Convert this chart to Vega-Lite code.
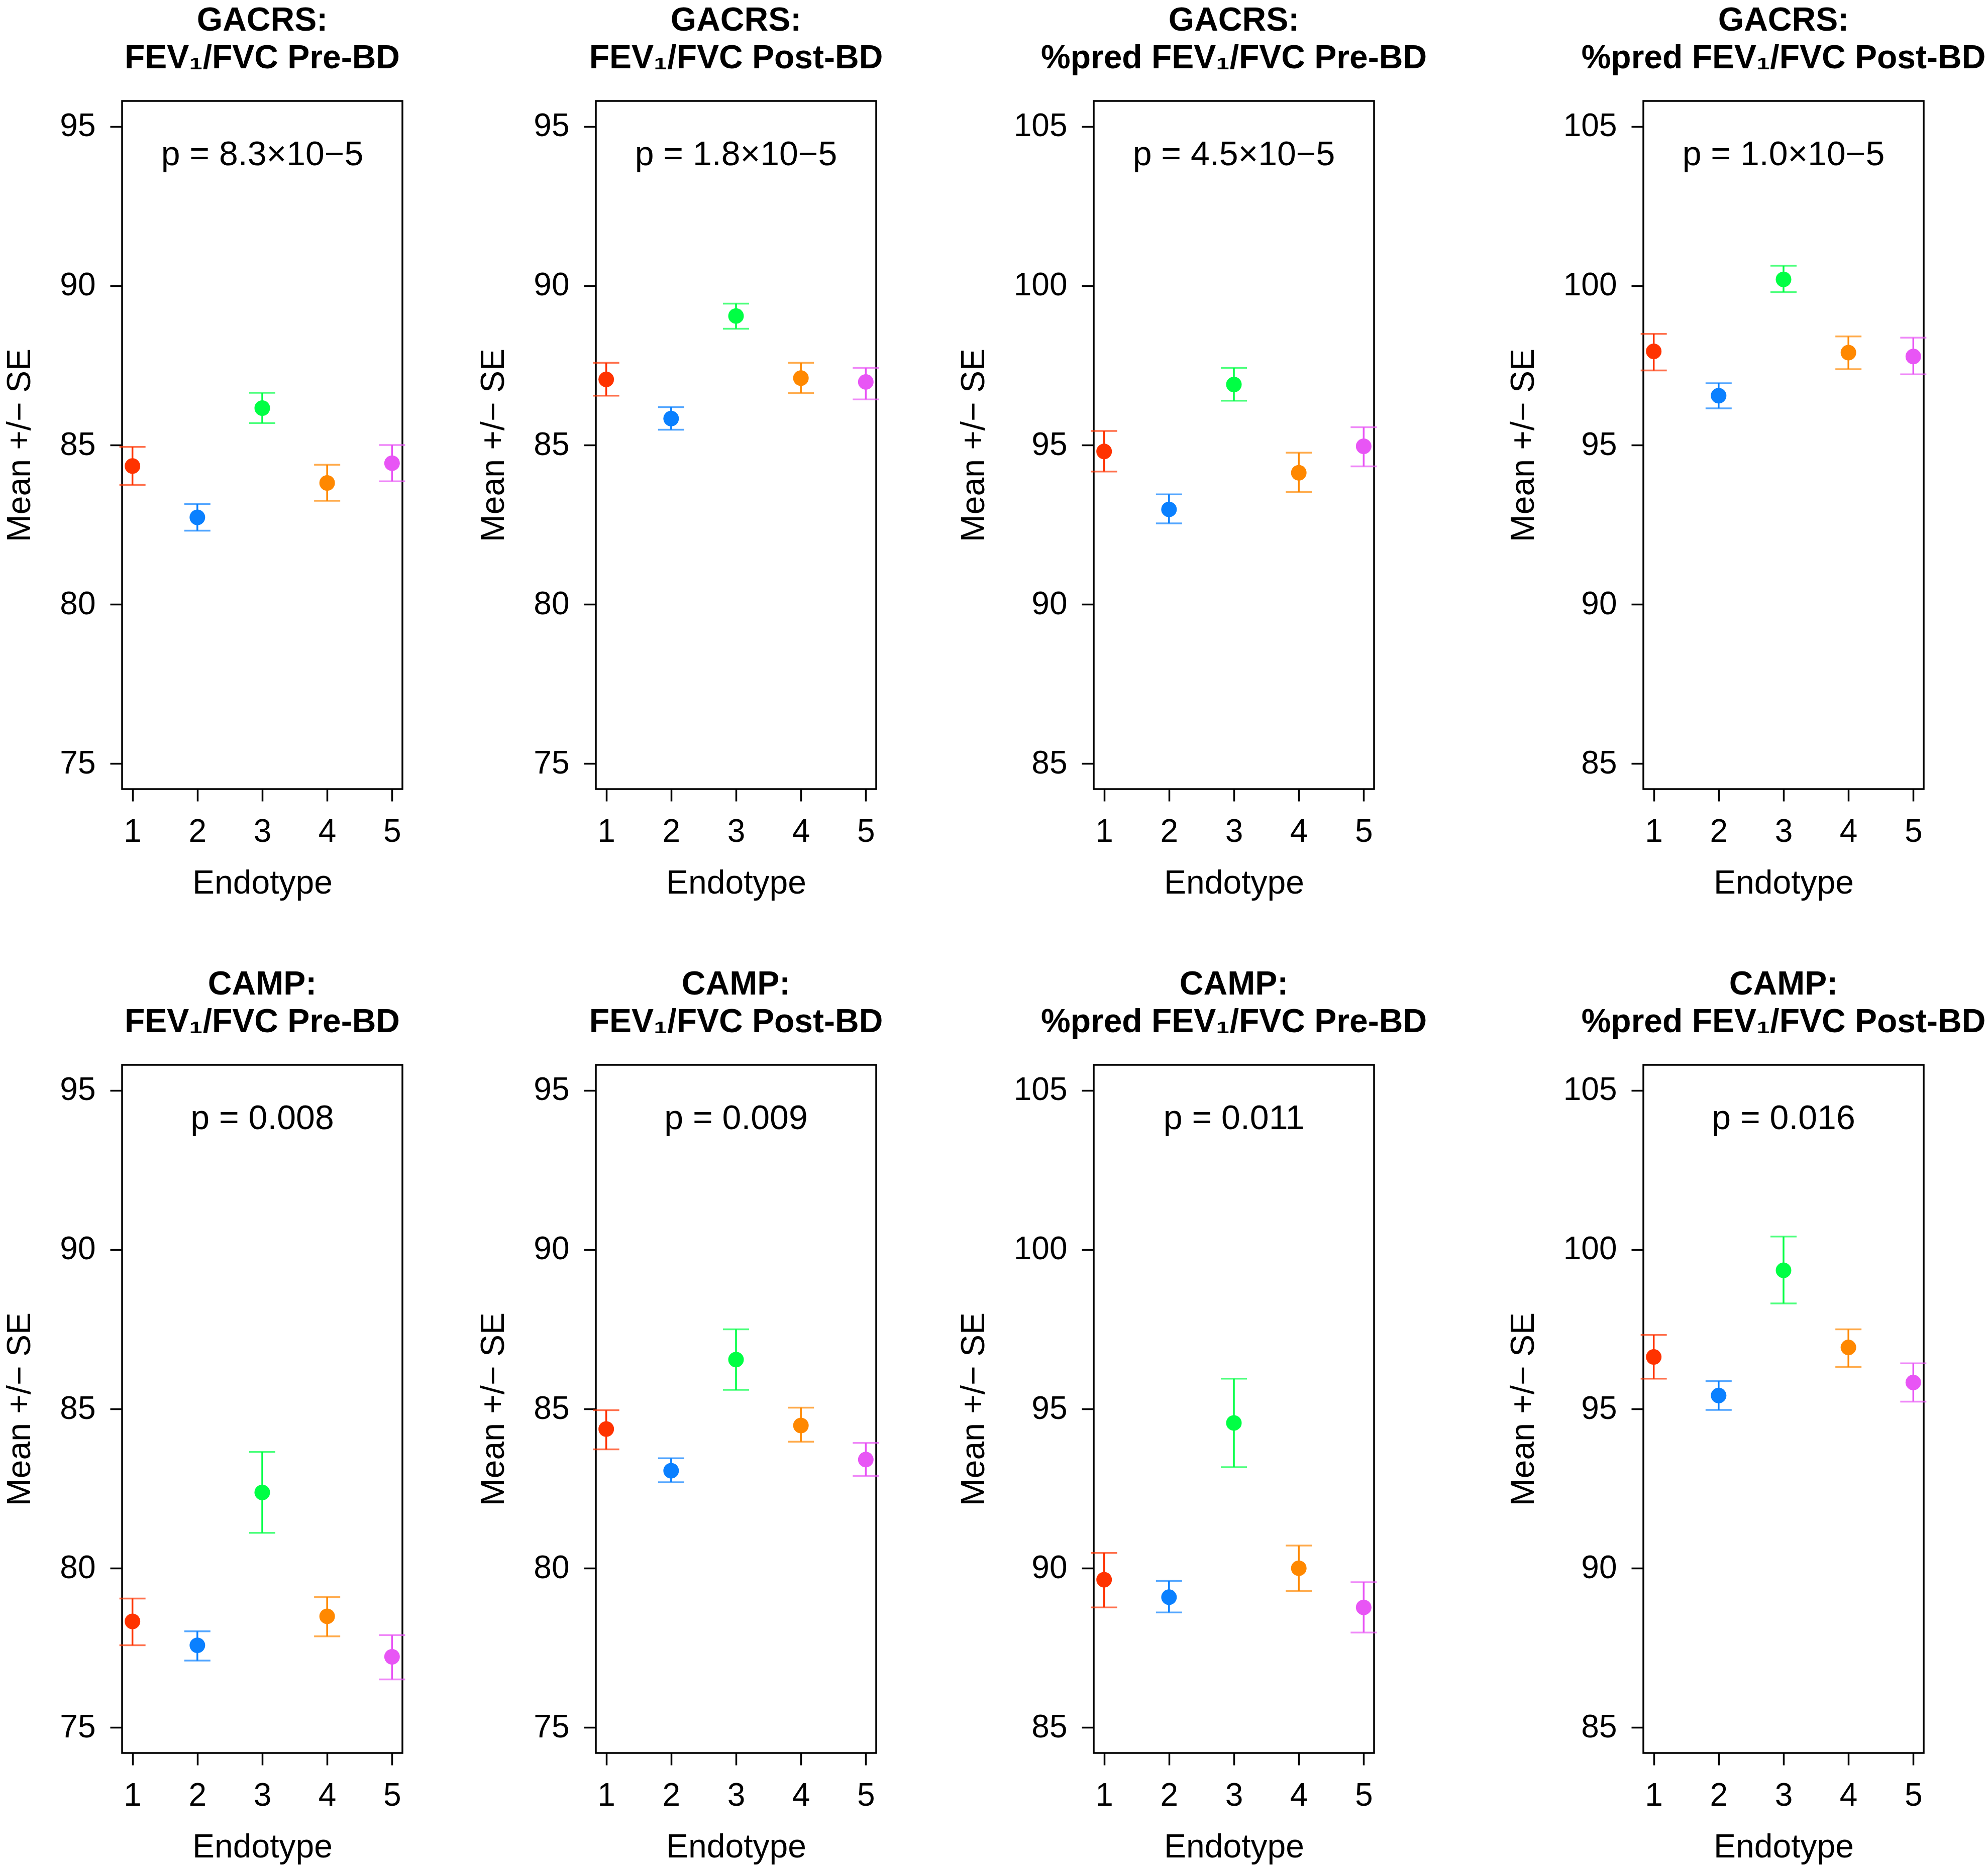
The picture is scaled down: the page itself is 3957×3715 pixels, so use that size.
{
  "$schema": "https://vega.github.io/schema/vega-lite/v6.json",
  "background": "white",
  "padding": {"left": 5, "top": 6, "right": 0, "bottom": 0},
  "datasets": {
    "pts": [
      {"panel": "g1", "endotype": 1, "mean": 84.34, "lo": 83.75, "hi": 84.94},
      {"panel": "g1", "endotype": 2, "mean": 82.73, "lo": 82.31, "hi": 83.15},
      {"panel": "g1", "endotype": 3, "mean": 86.16, "lo": 85.69, "hi": 86.64},
      {"panel": "g1", "endotype": 4, "mean": 83.81, "lo": 83.25, "hi": 84.38},
      {"panel": "g1", "endotype": 5, "mean": 84.43, "lo": 83.86, "hi": 85.0},
      {"panel": "g2", "endotype": 1, "mean": 87.06, "lo": 86.55, "hi": 87.58},
      {"panel": "g2", "endotype": 2, "mean": 85.83, "lo": 85.48, "hi": 86.19},
      {"panel": "g2", "endotype": 3, "mean": 89.05, "lo": 88.65, "hi": 89.44},
      {"panel": "g2", "endotype": 4, "mean": 87.1, "lo": 86.63, "hi": 87.58},
      {"panel": "g2", "endotype": 5, "mean": 86.98, "lo": 86.43, "hi": 87.42},
      {"panel": "g3", "endotype": 1, "mean": 94.8, "lo": 94.17, "hi": 95.44},
      {"panel": "g3", "endotype": 2, "mean": 92.98, "lo": 92.54, "hi": 93.45},
      {"panel": "g3", "endotype": 3, "mean": 96.9, "lo": 96.39, "hi": 97.42},
      {"panel": "g3", "endotype": 4, "mean": 94.13, "lo": 93.53, "hi": 94.76},
      {"panel": "g3", "endotype": 5, "mean": 94.96, "lo": 94.33, "hi": 95.56},
      {"panel": "g4", "endotype": 1, "mean": 97.94, "lo": 97.34, "hi": 98.49},
      {"panel": "g4", "endotype": 2, "mean": 96.55, "lo": 96.15, "hi": 96.94},
      {"panel": "g4", "endotype": 3, "mean": 100.2, "lo": 99.8, "hi": 100.63},
      {"panel": "g4", "endotype": 4, "mean": 97.9, "lo": 97.38, "hi": 98.41},
      {"panel": "g4", "endotype": 5, "mean": 97.78, "lo": 97.22, "hi": 98.37},
      {"panel": "c1", "endotype": 1, "mean": 78.33, "lo": 77.58, "hi": 79.05},
      {"panel": "c1", "endotype": 2, "mean": 77.58, "lo": 77.1, "hi": 78.02},
      {"panel": "c1", "endotype": 3, "mean": 82.38, "lo": 81.11, "hi": 83.65},
      {"panel": "c1", "endotype": 4, "mean": 78.49, "lo": 77.86, "hi": 79.09},
      {"panel": "c1", "endotype": 5, "mean": 77.22, "lo": 76.51, "hi": 77.9},
      {"panel": "c2", "endotype": 1, "mean": 84.37, "lo": 83.73, "hi": 84.96},
      {"panel": "c2", "endotype": 2, "mean": 83.06, "lo": 82.7, "hi": 83.45},
      {"panel": "c2", "endotype": 3, "mean": 86.55, "lo": 85.6, "hi": 87.5},
      {"panel": "c2", "endotype": 4, "mean": 84.48, "lo": 83.97, "hi": 85.04},
      {"panel": "c2", "endotype": 5, "mean": 83.41, "lo": 82.9, "hi": 83.93},
      {"panel": "c3", "endotype": 1, "mean": 89.64, "lo": 88.77, "hi": 90.48},
      {"panel": "c3", "endotype": 2, "mean": 89.09, "lo": 88.61, "hi": 89.6},
      {"panel": "c3", "endotype": 3, "mean": 94.56, "lo": 93.17, "hi": 95.95},
      {"panel": "c3", "endotype": 4, "mean": 90.0, "lo": 89.29, "hi": 90.71},
      {"panel": "c3", "endotype": 5, "mean": 88.77, "lo": 87.98, "hi": 89.56},
      {"panel": "c4", "endotype": 1, "mean": 96.63, "lo": 95.95, "hi": 97.32},
      {"panel": "c4", "endotype": 2, "mean": 95.42, "lo": 94.97, "hi": 95.87},
      {"panel": "c4", "endotype": 3, "mean": 99.35, "lo": 98.31, "hi": 100.41},
      {"panel": "c4", "endotype": 4, "mean": 96.93, "lo": 96.32, "hi": 97.5},
      {"panel": "c4", "endotype": 5, "mean": 95.83, "lo": 95.23, "hi": 96.43}
    ],
    "pv": [
      {"panel": "g1", "label": "p = 8.3×10−5"},
      {"panel": "g2", "label": "p = 1.8×10−5"},
      {"panel": "g3", "label": "p = 4.5×10−5"},
      {"panel": "g4", "label": "p = 1.0×10−5"},
      {"panel": "c1", "label": "p = 0.008"},
      {"panel": "c2", "label": "p = 0.009"},
      {"panel": "c3", "label": "p = 0.011"},
      {"panel": "c4", "label": "p = 0.016"}
    ]
  },
  "spacing": 132,
  "vconcat": [
    {
      "spacing": 139,
      "hconcat": [
        {
          "title": {"text": ["GACRS:", "FEV₁/FVC Pre-BD"]},
          "width": 558, "height": 1370,
          "layer": [
            {"data": {"name": "pts"}, "transform": [{"filter": "datum.panel == 'g1'"}], "mark": {"type": "rule", "strokeWidth": 3.5},
             "encoding": {"x": {"field": "endotype", "type": "quantitative", "scale": {"domain": [0.84, 5.16], "nice": false, "zero": false}, "axis": {"values": [1, 2, 3, 4, 5], "title": "Endotype", "format": "d"}},
                          "y": {"field": "lo", "type": "quantitative", "scale": {"domain": [74.2, 95.8], "nice": false, "zero": false}, "axis": {"values": [75, 80, 85, 90, 95], "title": "Mean +/− SE", "format": "d"}}, "y2": {"field": "hi"},
                          "color": {"field": "endotype", "type": "nominal", "scale": {"domain": [1, 2, 3, 4, 5], "range": ["#FF3300", "#0A80FF", "#00FF44", "#FF8800", "#E855F5"]}, "legend": null}}},
            {"data": {"name": "pts"}, "transform": [{"filter": "datum.panel == 'g1'"}], "mark": {"type": "tick", "orient": "horizontal", "size": 52, "thickness": 3.5},
             "encoding": {"x": {"field": "endotype", "type": "quantitative"}, "y": {"field": "lo", "type": "quantitative"}, "color": {"field": "endotype", "type": "nominal"}}},
            {"data": {"name": "pts"}, "transform": [{"filter": "datum.panel == 'g1'"}], "mark": {"type": "tick", "orient": "horizontal", "size": 52, "thickness": 3.5},
             "encoding": {"x": {"field": "endotype", "type": "quantitative"}, "y": {"field": "hi", "type": "quantitative"}, "color": {"field": "endotype", "type": "nominal"}}},
            {"data": {"name": "pts"}, "transform": [{"filter": "datum.panel == 'g1'"}], "mark": {"type": "circle", "size": 960, "opacity": 1},
             "encoding": {"x": {"field": "endotype", "type": "quantitative"}, "y": {"field": "mean", "type": "quantitative"}, "color": {"field": "endotype", "type": "nominal"}}},
            {"data": {"name": "pv"}, "transform": [{"filter": "datum.panel == 'g1'"}], "mark": {"type": "text", "fontSize": 68, "baseline": "alphabetic", "align": "center", "color": "black"},
             "encoding": {"x": {"datum": 3, "type": "quantitative"}, "y": {"datum": 93.78, "type": "quantitative"}, "text": {"field": "label", "type": "nominal"}}}
          ]
        },
        {
          "spacing": 143,
          "hconcat": [
            {
              "title": {"text": ["GACRS:", "FEV₁/FVC Post-BD"]},
              "width": 558, "height": 1370,
              "layer": [
                {"data": {"name": "pts"}, "transform": [{"filter": "datum.panel == 'g2'"}], "mark": {"type": "rule", "strokeWidth": 3.5},
                 "encoding": {"x": {"field": "endotype", "type": "quantitative", "scale": {"domain": [0.84, 5.16], "nice": false, "zero": false}, "axis": {"values": [1, 2, 3, 4, 5], "title": "Endotype", "format": "d"}},
                              "y": {"field": "lo", "type": "quantitative", "scale": {"domain": [74.2, 95.8], "nice": false, "zero": false}, "axis": {"values": [75, 80, 85, 90, 95], "title": "Mean +/− SE", "format": "d"}}, "y2": {"field": "hi"},
                              "color": {"field": "endotype", "type": "nominal", "scale": {"domain": [1, 2, 3, 4, 5], "range": ["#FF3300", "#0A80FF", "#00FF44", "#FF8800", "#E855F5"]}, "legend": null}}},
                {"data": {"name": "pts"}, "transform": [{"filter": "datum.panel == 'g2'"}], "mark": {"type": "tick", "orient": "horizontal", "size": 52, "thickness": 3.5},
                 "encoding": {"x": {"field": "endotype", "type": "quantitative"}, "y": {"field": "lo", "type": "quantitative"}, "color": {"field": "endotype", "type": "nominal"}}},
                {"data": {"name": "pts"}, "transform": [{"filter": "datum.panel == 'g2'"}], "mark": {"type": "tick", "orient": "horizontal", "size": 52, "thickness": 3.5},
                 "encoding": {"x": {"field": "endotype", "type": "quantitative"}, "y": {"field": "hi", "type": "quantitative"}, "color": {"field": "endotype", "type": "nominal"}}},
                {"data": {"name": "pts"}, "transform": [{"filter": "datum.panel == 'g2'"}], "mark": {"type": "circle", "size": 960, "opacity": 1},
                 "encoding": {"x": {"field": "endotype", "type": "quantitative"}, "y": {"field": "mean", "type": "quantitative"}, "color": {"field": "endotype", "type": "nominal"}}},
                {"data": {"name": "pv"}, "transform": [{"filter": "datum.panel == 'g2'"}], "mark": {"type": "text", "fontSize": 68, "baseline": "alphabetic", "align": "center", "color": "black"},
                 "encoding": {"x": {"datum": 3, "type": "quantitative"}, "y": {"datum": 93.78, "type": "quantitative"}, "text": {"field": "label", "type": "nominal"}}}
              ]
            },
            {
              "spacing": 155,
              "hconcat": [
                {
                  "title": {"text": ["GACRS:", "%pred FEV₁/FVC Pre-BD"]},
                  "width": 558, "height": 1370,
                  "layer": [
                    {"data": {"name": "pts"}, "transform": [{"filter": "datum.panel == 'g3'"}], "mark": {"type": "rule", "strokeWidth": 3.5},
                     "encoding": {"x": {"field": "endotype", "type": "quantitative", "scale": {"domain": [0.84, 5.16], "nice": false, "zero": false}, "axis": {"values": [1, 2, 3, 4, 5], "title": "Endotype", "format": "d"}},
                                  "y": {"field": "lo", "type": "quantitative", "scale": {"domain": [84.2, 105.8], "nice": false, "zero": false}, "axis": {"values": [85, 90, 95, 100, 105], "title": "Mean +/− SE", "format": "d"}}, "y2": {"field": "hi"},
                                  "color": {"field": "endotype", "type": "nominal", "scale": {"domain": [1, 2, 3, 4, 5], "range": ["#FF3300", "#0A80FF", "#00FF44", "#FF8800", "#E855F5"]}, "legend": null}}},
                    {"data": {"name": "pts"}, "transform": [{"filter": "datum.panel == 'g3'"}], "mark": {"type": "tick", "orient": "horizontal", "size": 52, "thickness": 3.5},
                     "encoding": {"x": {"field": "endotype", "type": "quantitative"}, "y": {"field": "lo", "type": "quantitative"}, "color": {"field": "endotype", "type": "nominal"}}},
                    {"data": {"name": "pts"}, "transform": [{"filter": "datum.panel == 'g3'"}], "mark": {"type": "tick", "orient": "horizontal", "size": 52, "thickness": 3.5},
                     "encoding": {"x": {"field": "endotype", "type": "quantitative"}, "y": {"field": "hi", "type": "quantitative"}, "color": {"field": "endotype", "type": "nominal"}}},
                    {"data": {"name": "pts"}, "transform": [{"filter": "datum.panel == 'g3'"}], "mark": {"type": "circle", "size": 960, "opacity": 1},
                     "encoding": {"x": {"field": "endotype", "type": "quantitative"}, "y": {"field": "mean", "type": "quantitative"}, "color": {"field": "endotype", "type": "nominal"}}},
                    {"data": {"name": "pv"}, "transform": [{"filter": "datum.panel == 'g3'"}], "mark": {"type": "text", "fontSize": 68, "baseline": "alphabetic", "align": "center", "color": "black"},
                     "encoding": {"x": {"datum": 3, "type": "quantitative"}, "y": {"datum": 103.78, "type": "quantitative"}, "text": {"field": "label", "type": "nominal"}}}
                  ]
                },
                {
                  "title": {"text": ["GACRS:", "%pred FEV₁/FVC Post-BD"]},
                  "width": 558, "height": 1370,
                  "layer": [
                    {"data": {"name": "pts"}, "transform": [{"filter": "datum.panel == 'g4'"}], "mark": {"type": "rule", "strokeWidth": 3.5},
                     "encoding": {"x": {"field": "endotype", "type": "quantitative", "scale": {"domain": [0.84, 5.16], "nice": false, "zero": false}, "axis": {"values": [1, 2, 3, 4, 5], "title": "Endotype", "format": "d"}},
                                  "y": {"field": "lo", "type": "quantitative", "scale": {"domain": [84.2, 105.8], "nice": false, "zero": false}, "axis": {"values": [85, 90, 95, 100, 105], "title": "Mean +/− SE", "format": "d"}}, "y2": {"field": "hi"},
                                  "color": {"field": "endotype", "type": "nominal", "scale": {"domain": [1, 2, 3, 4, 5], "range": ["#FF3300", "#0A80FF", "#00FF44", "#FF8800", "#E855F5"]}, "legend": null}}},
                    {"data": {"name": "pts"}, "transform": [{"filter": "datum.panel == 'g4'"}], "mark": {"type": "tick", "orient": "horizontal", "size": 52, "thickness": 3.5},
                     "encoding": {"x": {"field": "endotype", "type": "quantitative"}, "y": {"field": "lo", "type": "quantitative"}, "color": {"field": "endotype", "type": "nominal"}}},
                    {"data": {"name": "pts"}, "transform": [{"filter": "datum.panel == 'g4'"}], "mark": {"type": "tick", "orient": "horizontal", "size": 52, "thickness": 3.5},
                     "encoding": {"x": {"field": "endotype", "type": "quantitative"}, "y": {"field": "hi", "type": "quantitative"}, "color": {"field": "endotype", "type": "nominal"}}},
                    {"data": {"name": "pts"}, "transform": [{"filter": "datum.panel == 'g4'"}], "mark": {"type": "circle", "size": 960, "opacity": 1},
                     "encoding": {"x": {"field": "endotype", "type": "quantitative"}, "y": {"field": "mean", "type": "quantitative"}, "color": {"field": "endotype", "type": "nominal"}}},
                    {"data": {"name": "pv"}, "transform": [{"filter": "datum.panel == 'g4'"}], "mark": {"type": "text", "fontSize": 68, "baseline": "alphabetic", "align": "center", "color": "black"},
                     "encoding": {"x": {"datum": 3, "type": "quantitative"}, "y": {"datum": 103.78, "type": "quantitative"}, "text": {"field": "label", "type": "nominal"}}}
                  ]
                }
              ]
            }
          ]
        }
      ]
    },
    {
      "spacing": 139,
      "hconcat": [
        {
          "title": {"text": ["CAMP:", "FEV₁/FVC Pre-BD"]},
          "width": 558, "height": 1370,
          "layer": [
            {"data": {"name": "pts"}, "transform": [{"filter": "datum.panel == 'c1'"}], "mark": {"type": "rule", "strokeWidth": 3.5},
             "encoding": {"x": {"field": "endotype", "type": "quantitative", "scale": {"domain": [0.84, 5.16], "nice": false, "zero": false}, "axis": {"values": [1, 2, 3, 4, 5], "title": "Endotype", "format": "d"}},
                          "y": {"field": "lo", "type": "quantitative", "scale": {"domain": [74.2, 95.8], "nice": false, "zero": false}, "axis": {"values": [75, 80, 85, 90, 95], "title": "Mean +/− SE", "format": "d"}}, "y2": {"field": "hi"},
                          "color": {"field": "endotype", "type": "nominal", "scale": {"domain": [1, 2, 3, 4, 5], "range": ["#FF3300", "#0A80FF", "#00FF44", "#FF8800", "#E855F5"]}, "legend": null}}},
            {"data": {"name": "pts"}, "transform": [{"filter": "datum.panel == 'c1'"}], "mark": {"type": "tick", "orient": "horizontal", "size": 52, "thickness": 3.5},
             "encoding": {"x": {"field": "endotype", "type": "quantitative"}, "y": {"field": "lo", "type": "quantitative"}, "color": {"field": "endotype", "type": "nominal"}}},
            {"data": {"name": "pts"}, "transform": [{"filter": "datum.panel == 'c1'"}], "mark": {"type": "tick", "orient": "horizontal", "size": 52, "thickness": 3.5},
             "encoding": {"x": {"field": "endotype", "type": "quantitative"}, "y": {"field": "hi", "type": "quantitative"}, "color": {"field": "endotype", "type": "nominal"}}},
            {"data": {"name": "pts"}, "transform": [{"filter": "datum.panel == 'c1'"}], "mark": {"type": "circle", "size": 960, "opacity": 1},
             "encoding": {"x": {"field": "endotype", "type": "quantitative"}, "y": {"field": "mean", "type": "quantitative"}, "color": {"field": "endotype", "type": "nominal"}}},
            {"data": {"name": "pv"}, "transform": [{"filter": "datum.panel == 'c1'"}], "mark": {"type": "text", "fontSize": 68, "baseline": "alphabetic", "align": "center", "color": "black"},
             "encoding": {"x": {"datum": 3, "type": "quantitative"}, "y": {"datum": 93.78, "type": "quantitative"}, "text": {"field": "label", "type": "nominal"}}}
          ]
        },
        {
          "spacing": 143,
          "hconcat": [
            {
              "title": {"text": ["CAMP:", "FEV₁/FVC Post-BD"]},
              "width": 558, "height": 1370,
              "layer": [
                {"data": {"name": "pts"}, "transform": [{"filter": "datum.panel == 'c2'"}], "mark": {"type": "rule", "strokeWidth": 3.5},
                 "encoding": {"x": {"field": "endotype", "type": "quantitative", "scale": {"domain": [0.84, 5.16], "nice": false, "zero": false}, "axis": {"values": [1, 2, 3, 4, 5], "title": "Endotype", "format": "d"}},
                              "y": {"field": "lo", "type": "quantitative", "scale": {"domain": [74.2, 95.8], "nice": false, "zero": false}, "axis": {"values": [75, 80, 85, 90, 95], "title": "Mean +/− SE", "format": "d"}}, "y2": {"field": "hi"},
                              "color": {"field": "endotype", "type": "nominal", "scale": {"domain": [1, 2, 3, 4, 5], "range": ["#FF3300", "#0A80FF", "#00FF44", "#FF8800", "#E855F5"]}, "legend": null}}},
                {"data": {"name": "pts"}, "transform": [{"filter": "datum.panel == 'c2'"}], "mark": {"type": "tick", "orient": "horizontal", "size": 52, "thickness": 3.5},
                 "encoding": {"x": {"field": "endotype", "type": "quantitative"}, "y": {"field": "lo", "type": "quantitative"}, "color": {"field": "endotype", "type": "nominal"}}},
                {"data": {"name": "pts"}, "transform": [{"filter": "datum.panel == 'c2'"}], "mark": {"type": "tick", "orient": "horizontal", "size": 52, "thickness": 3.5},
                 "encoding": {"x": {"field": "endotype", "type": "quantitative"}, "y": {"field": "hi", "type": "quantitative"}, "color": {"field": "endotype", "type": "nominal"}}},
                {"data": {"name": "pts"}, "transform": [{"filter": "datum.panel == 'c2'"}], "mark": {"type": "circle", "size": 960, "opacity": 1},
                 "encoding": {"x": {"field": "endotype", "type": "quantitative"}, "y": {"field": "mean", "type": "quantitative"}, "color": {"field": "endotype", "type": "nominal"}}},
                {"data": {"name": "pv"}, "transform": [{"filter": "datum.panel == 'c2'"}], "mark": {"type": "text", "fontSize": 68, "baseline": "alphabetic", "align": "center", "color": "black"},
                 "encoding": {"x": {"datum": 3, "type": "quantitative"}, "y": {"datum": 93.78, "type": "quantitative"}, "text": {"field": "label", "type": "nominal"}}}
              ]
            },
            {
              "spacing": 155,
              "hconcat": [
                {
                  "title": {"text": ["CAMP:", "%pred FEV₁/FVC Pre-BD"]},
                  "width": 558, "height": 1370,
                  "layer": [
                    {"data": {"name": "pts"}, "transform": [{"filter": "datum.panel == 'c3'"}], "mark": {"type": "rule", "strokeWidth": 3.5},
                     "encoding": {"x": {"field": "endotype", "type": "quantitative", "scale": {"domain": [0.84, 5.16], "nice": false, "zero": false}, "axis": {"values": [1, 2, 3, 4, 5], "title": "Endotype", "format": "d"}},
                                  "y": {"field": "lo", "type": "quantitative", "scale": {"domain": [84.2, 105.8], "nice": false, "zero": false}, "axis": {"values": [85, 90, 95, 100, 105], "title": "Mean +/− SE", "format": "d"}}, "y2": {"field": "hi"},
                                  "color": {"field": "endotype", "type": "nominal", "scale": {"domain": [1, 2, 3, 4, 5], "range": ["#FF3300", "#0A80FF", "#00FF44", "#FF8800", "#E855F5"]}, "legend": null}}},
                    {"data": {"name": "pts"}, "transform": [{"filter": "datum.panel == 'c3'"}], "mark": {"type": "tick", "orient": "horizontal", "size": 52, "thickness": 3.5},
                     "encoding": {"x": {"field": "endotype", "type": "quantitative"}, "y": {"field": "lo", "type": "quantitative"}, "color": {"field": "endotype", "type": "nominal"}}},
                    {"data": {"name": "pts"}, "transform": [{"filter": "datum.panel == 'c3'"}], "mark": {"type": "tick", "orient": "horizontal", "size": 52, "thickness": 3.5},
                     "encoding": {"x": {"field": "endotype", "type": "quantitative"}, "y": {"field": "hi", "type": "quantitative"}, "color": {"field": "endotype", "type": "nominal"}}},
                    {"data": {"name": "pts"}, "transform": [{"filter": "datum.panel == 'c3'"}], "mark": {"type": "circle", "size": 960, "opacity": 1},
                     "encoding": {"x": {"field": "endotype", "type": "quantitative"}, "y": {"field": "mean", "type": "quantitative"}, "color": {"field": "endotype", "type": "nominal"}}},
                    {"data": {"name": "pv"}, "transform": [{"filter": "datum.panel == 'c3'"}], "mark": {"type": "text", "fontSize": 68, "baseline": "alphabetic", "align": "center", "color": "black"},
                     "encoding": {"x": {"datum": 3, "type": "quantitative"}, "y": {"datum": 103.78, "type": "quantitative"}, "text": {"field": "label", "type": "nominal"}}}
                  ]
                },
                {
                  "title": {"text": ["CAMP:", "%pred FEV₁/FVC Post-BD"]},
                  "width": 558, "height": 1370,
                  "layer": [
                    {"data": {"name": "pts"}, "transform": [{"filter": "datum.panel == 'c4'"}], "mark": {"type": "rule", "strokeWidth": 3.5},
                     "encoding": {"x": {"field": "endotype", "type": "quantitative", "scale": {"domain": [0.84, 5.16], "nice": false, "zero": false}, "axis": {"values": [1, 2, 3, 4, 5], "title": "Endotype", "format": "d"}},
                                  "y": {"field": "lo", "type": "quantitative", "scale": {"domain": [84.2, 105.8], "nice": false, "zero": false}, "axis": {"values": [85, 90, 95, 100, 105], "title": "Mean +/− SE", "format": "d"}}, "y2": {"field": "hi"},
                                  "color": {"field": "endotype", "type": "nominal", "scale": {"domain": [1, 2, 3, 4, 5], "range": ["#FF3300", "#0A80FF", "#00FF44", "#FF8800", "#E855F5"]}, "legend": null}}},
                    {"data": {"name": "pts"}, "transform": [{"filter": "datum.panel == 'c4'"}], "mark": {"type": "tick", "orient": "horizontal", "size": 52, "thickness": 3.5},
                     "encoding": {"x": {"field": "endotype", "type": "quantitative"}, "y": {"field": "lo", "type": "quantitative"}, "color": {"field": "endotype", "type": "nominal"}}},
                    {"data": {"name": "pts"}, "transform": [{"filter": "datum.panel == 'c4'"}], "mark": {"type": "tick", "orient": "horizontal", "size": 52, "thickness": 3.5},
                     "encoding": {"x": {"field": "endotype", "type": "quantitative"}, "y": {"field": "hi", "type": "quantitative"}, "color": {"field": "endotype", "type": "nominal"}}},
                    {"data": {"name": "pts"}, "transform": [{"filter": "datum.panel == 'c4'"}], "mark": {"type": "circle", "size": 960, "opacity": 1},
                     "encoding": {"x": {"field": "endotype", "type": "quantitative"}, "y": {"field": "mean", "type": "quantitative"}, "color": {"field": "endotype", "type": "nominal"}}},
                    {"data": {"name": "pv"}, "transform": [{"filter": "datum.panel == 'c4'"}], "mark": {"type": "text", "fontSize": 68, "baseline": "alphabetic", "align": "center", "color": "black"},
                     "encoding": {"x": {"datum": 3, "type": "quantitative"}, "y": {"datum": 103.78, "type": "quantitative"}, "text": {"field": "label", "type": "nominal"}}}
                  ]
                }
              ]
            }
          ]
        }
      ]
    }
  ],
  "config": {
    "font": "Liberation Sans",
    "view": {"stroke": "black", "strokeWidth": 3.5},
    "axis": {"grid": false, "domain": false, "ticks": true, "tickColor": "black", "tickWidth": 3.5, "tickSize": 24, "labelColor": "black", "labelFontSize": 64, "labelFont": "Liberation Sans", "labelFlush": false, "labelOverlap": false, "labelBound": false, "titleFont": "Liberation Sans", "titleFontSize": 66, "titleFontWeight": "normal", "titleColor": "black"},
    "axisY": {"labelPadding": 29, "titlePadding": 45},
    "axisX": {"labelPadding": 29, "titlePadding": 38},
    "title": {"font": "Liberation Sans", "fontSize": 66, "fontWeight": "bold", "color": "black", "lineHeight": 75, "baseline": "bottom", "offset": 51, "anchor": "middle", "frame": "group"}
  }
}
